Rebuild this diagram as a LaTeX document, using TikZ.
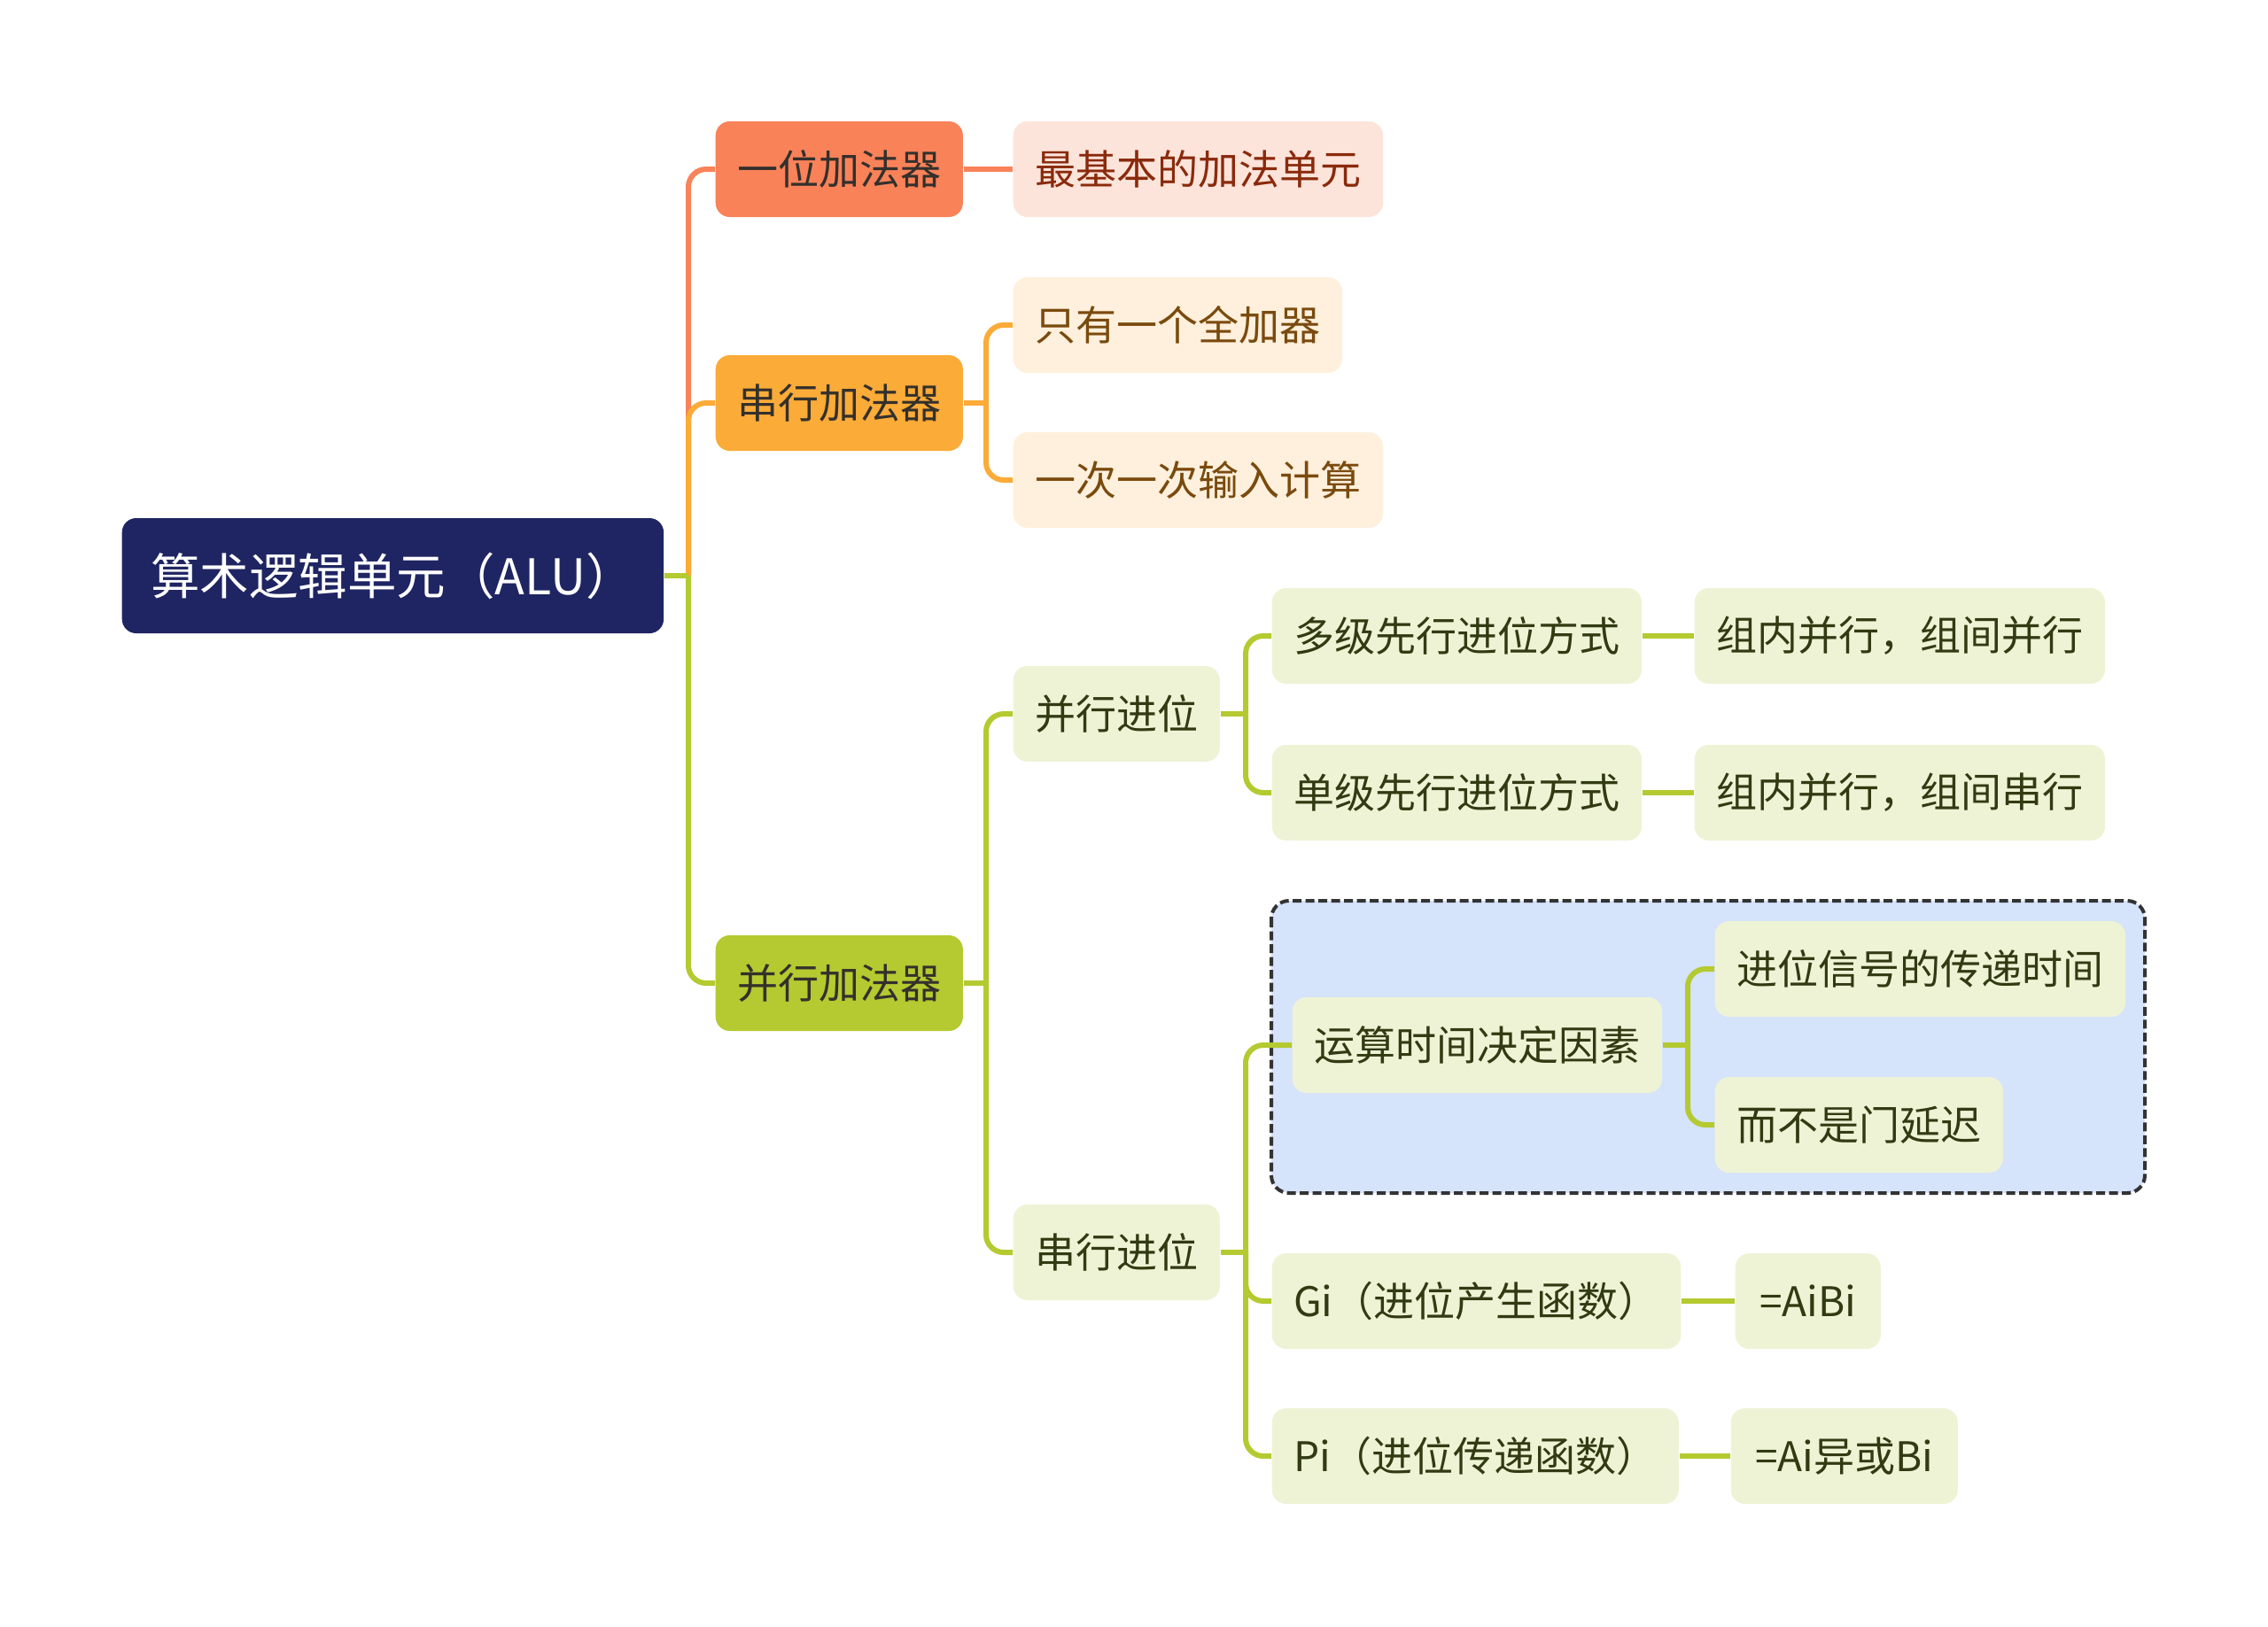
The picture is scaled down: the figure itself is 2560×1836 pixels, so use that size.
\documentclass[tikz,border=0pt]{standalone}
\usepackage{fontspec}
\setmainfont{Noto Sans CJK SC}
\definecolor{navy}{HTML}{1F2562}
\definecolor{coral}{HTML}{F98259}
\definecolor{coralpale}{HTML}{FDE4DA}
\definecolor{coraltext}{HTML}{8A2A0C}
\definecolor{amber}{HTML}{FBAB38}
\definecolor{amberpale}{HTML}{FEF0DC}
\definecolor{ambertext}{HTML}{7A4A0E}
\definecolor{lime}{HTML}{B4CA30}
\definecolor{limepale}{HTML}{EFF3D6}
\definecolor{limetext}{HTML}{323A12}
\definecolor{skyfill}{HTML}{D5E3FB}
\definecolor{darktext}{HTML}{33302C}
\tikzset{
  box/.style={rounded corners=1.6mm, minimum height=10.8mm, inner xsep=2.45mm, anchor=west,
    font=\fontsize{13.1}{15}\selectfont},
  rootbox/.style={box, fill=navy, text=white, minimum height=13mm, inner xsep=3.25mm,
    font=\fontsize{15.8}{18}\selectfont},
  coralbox/.style={box, fill=coral, text=darktext},
  coralleaf/.style={box, fill=coralpale, text=coraltext},
  amberbox/.style={box, fill=amber, text=darktext},
  amberleaf/.style={box, fill=amberpale, text=ambertext},
  limebox/.style={box, fill=lime, text=darktext},
  limeleaf/.style={box, fill=limepale, text=limetext},
  link/.style={line width=0.6mm, rounded corners=2mm},
}
\begin{document}
\begin{tikzpicture}[x=0.1mm, y=-0.1mm, line join=round]
  \useasboundingbox (0,0) rectangle (2560,1836);
  %%%%%%%%%%%%%%%%%%%%%%%%%%%%%%%%%
  \coordinate (T1) at (777,0);
  \coordinate (T2) at (1113,0);
  \coordinate (T3) at (1406,0);
  \coordinate (T4) at (1905,0);
  %%%%%%%%%%%%%%%%%%%%%%%%%%%%%%%%%
  \filldraw[fill=skyfill, draw=black!80, line width=0.4mm, dash pattern=on 1mm off 0.45mm,
    rounded corners=2mm] (1435,1017) rectangle (2421,1347);
  %%%%%%%%%%%%%%%%%%%%%%%%%%%%%%%%%
  \node[rootbox] (alu) at (137,650) {算术逻辑单元（ALU）};
  \node[coralbox] (yiwei) at (807,191) {一位加法器};
  \node[coralleaf] (zuiji) at (1143,191) {最基本的加法单元};
  \node[amberbox] (chuanxing) at (807,455) {串行加法器};
  \node[amberleaf] (zhiyou) at (1143,367) {只有一个全加器};
  \node[amberleaf] (yici) at (1143,542) {一次一次输入计算};
  \node[limebox] (bingxing) at (807,1110) {并行加法器};
  \node[limeleaf] (bjw) at (1143,806) {并行进位};
  \node[limeleaf] (duoji) at (1435,718) {多级先行进位方式};
  \node[limeleaf] (zn1) at (1912,718) {组内并行，组间并行};
  \node[limeleaf] (danji) at (1435,895) {单级先行进位方式};
  \node[limeleaf] (zn2) at (1912,895) {组内并行，组间串行};
  \node[limeleaf] (ys) at (1458,1180) {运算时间决定因素};
  \node[limeleaf] (jwxh) at (1935,1094) {进位信号的传递时间};
  \node[limeleaf] (ebs) at (1935,1270) {而不是门延迟};
  \node[limeleaf] (cjw) at (1143,1414) {串行进位};
  \node[limeleaf] (gi) at (1435,1469) {Gi（进位产生函数）};
  \node[limeleaf, inner xsep=2.75mm] (aibi) at (1958,1469) {=AiBi};
  \node[limeleaf] (pi) at (1435,1644) {Pi（进位传递函数）};
  \node[limeleaf, inner xsep=2.75mm] (aiyb) at (1953,1644) {=Ai异或Bi};
  %%%%%%%%%%%%%%%%%%%%%%%%%%%%%%%%%
  \begin{scope}[link]
    \draw[coral] (T1 |- alu.east) -- (T1 |- yiwei.west) -- (yiwei.west);
    \draw[amber] (T1 |- alu.east) -- (T1 |- chuanxing.west) -- (chuanxing.west);
    \draw[lime] (T1 |- alu.east) -- (T1 |- bingxing.west) -- (bingxing.west);
    \draw[lime] (alu.east) -- (T1 |- alu.east);
    \draw[coral] (yiwei.east) -- (zuiji.west);
    \draw[amber] (chuanxing.east) -- (T2 |- chuanxing.east);
    \draw[amber] (T2 |- chuanxing.east) -- (T2 |- zhiyou.west) -- (zhiyou.west);
    \draw[amber] (T2 |- chuanxing.east) -- (T2 |- yici.west) -- (yici.west);
    \draw[lime] (bingxing.east) -- (T2 |- bingxing.east);
    \draw[lime] (T2 |- bingxing.east) -- (T2 |- bjw.west) -- (bjw.west);
    \draw[lime] (T2 |- bingxing.east) -- (T2 |- cjw.west) -- (cjw.west);
    \draw[lime] (bjw.east) -- (T3 |- bjw.east);
    \draw[lime] (T3 |- bjw.east) -- (T3 |- duoji.west) -- (duoji.west);
    \draw[lime] (T3 |- bjw.east) -- (T3 |- danji.west) -- (danji.west);
    \draw[lime] (duoji.east) -- (zn1.west);
    \draw[lime] (danji.east) -- (zn2.west);
    \draw[lime] (cjw.east) -- (T3 |- cjw.east);
    \draw[lime] (T3 |- cjw.east) -- (T3 |- ys.west) -- (ys.west);
    \draw[lime] (T3 |- cjw.east) -- (T3 |- gi.west) -- (gi.west);
    \draw[lime] (T3 |- cjw.east) -- (T3 |- pi.west) -- (pi.west);
    \draw[lime] (ys.east) -- (T4 |- ys.east);
    \draw[lime] (T4 |- ys.east) -- (T4 |- jwxh.west) -- (jwxh.west);
    \draw[lime] (T4 |- ys.east) -- (T4 |- ebs.west) -- (ebs.west);
    \draw[lime] (gi.east) -- (aibi.west);
    \draw[lime] (pi.east) -- (aiyb.west);
  \end{scope}
  %%%%%%%%%%%%%%%%%%%%%%%%%%%%%%%%%
\end{tikzpicture}
\end{document}
